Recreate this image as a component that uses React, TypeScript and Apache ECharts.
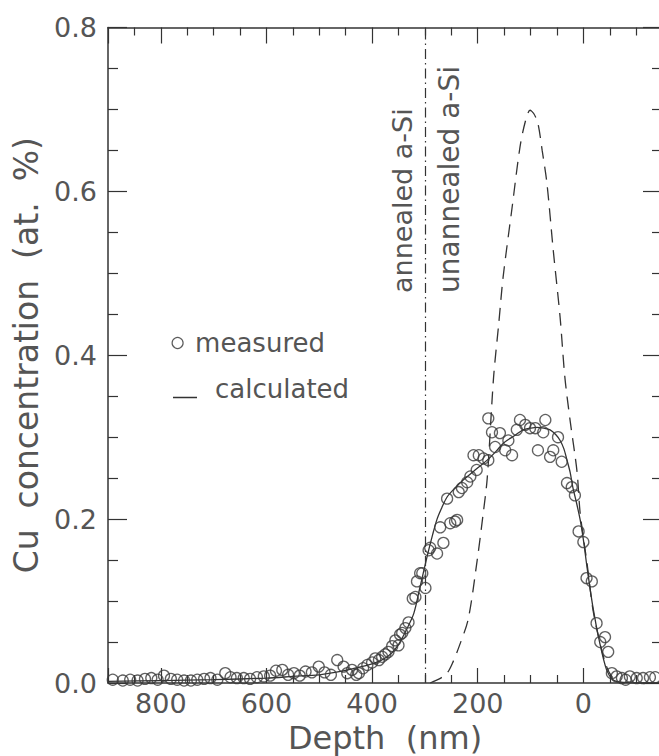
import React, { useEffect, useRef } from "react";
import * as echarts from "echarts";

// Measured Cu concentration (depth in nm, concentration in at.%)
const measuredDepth = [
  891, 872, 858, 844, 830, 818, 806, 794, 781, 769, 756, 743, 731, 718, 706, 693, 678, 668, 656, 643,
  631, 618, 605, 593, 582, 570, 559, 548, 537, 526, 514, 501, 490, 478, 466, 454, 447, 438, 430, 425,
  417, 409, 400, 394, 387, 381, 375, 369, 362, 356, 350, 347, 343, 337, 331, 323, 318, 315, 309, 305,
  299, 293, 290, 277, 271, 265, 258, 252, 243, 239, 236, 230, 220, 214, 208, 202, 198, 189, 180, 180,
  173, 167, 158, 148, 142, 135, 126, 120, 110, 101, 91, 86, 76, 72, 63, 57, 48, 41, 31, 22,
  16, 9, 0, -6, -16, -25, -32, -41, -47, -54, -63, -73, -80, -88, -101, -113, -126, -136,
];
const measuredConc = [
  0.004, 0.003, 0.004, 0.003, 0.005, 0.006, 0.004, 0.009, 0.005, 0.004, 0.003, 0.003, 0.004, 0.005, 0.006, 0.004, 0.012, 0.007, 0.006, 0.006,
  0.005, 0.007, 0.008, 0.009, 0.015, 0.016, 0.010, 0.012, 0.009, 0.014, 0.013, 0.020, 0.013, 0.010, 0.028, 0.020, 0.012, 0.016, 0.010, 0.012,
  0.018, 0.022, 0.025, 0.030, 0.028, 0.032, 0.035, 0.038, 0.045, 0.052, 0.046, 0.059, 0.061, 0.067, 0.074, 0.103, 0.105, 0.124, 0.134, 0.134,
  0.116, 0.162, 0.165, 0.158, 0.190, 0.171, 0.225, 0.195, 0.197, 0.199, 0.233, 0.238, 0.245, 0.252, 0.278, 0.260, 0.278, 0.274, 0.323, 0.272,
  0.306, 0.288, 0.305, 0.284, 0.296, 0.278, 0.309, 0.321, 0.315, 0.311, 0.311, 0.284, 0.306, 0.321, 0.276, 0.284, 0.300, 0.270, 0.244, 0.239,
  0.229, 0.185, 0.172, 0.128, 0.124, 0.073, 0.050, 0.056, 0.038, 0.012, 0.008, 0.006, 0.004, 0.008, 0.006, 0.006, 0.007, 0.007,
];

// Calculated profile after annealing (solid line)
const calcDepth = [
  900, 800, 700, 600, 550, 500, 479, 440, 397, 371, 353, 335, 321, 310, 296, 285, 277, 268, 258, 243,
  227, 205, 182, 165, 151, 130, 114, 100, 88, 75, 63, 52, 44, 37, 31, 25, 20, 13, 6, 0,
  -7, -18, -31, -44, -56, -70, -100, -200,
];
const calcConc = [
  0.002, 0.003, 0.004, 0.006, 0.008, 0.010, 0.012, 0.017, 0.024, 0.032, 0.044, 0.065, 0.085, 0.115, 0.154, 0.182, 0.200, 0.214, 0.227, 0.238,
  0.248, 0.260, 0.272, 0.283, 0.293, 0.302, 0.309, 0.311, 0.312, 0.311, 0.309, 0.303, 0.296, 0.286, 0.272, 0.257, 0.239, 0.220, 0.199, 0.175,
  0.141, 0.093, 0.049, 0.016, 0.004, 0.001, 0.0, 0.0,
];

// Calculated as-implanted profile (dashed line)
const implDepth = [
  290, 280, 270, 258, 248, 235, 218, 201, 190, 182, 170, 160, 152, 135, 120, 110, 101, 94, 86, 78,
  69, 57, 44, 35, 25, 12, 6, -7, -18, -31, -44, -56, -70,
];
const implConc = [
  0.0, 0.003, 0.006, 0.012, 0.024, 0.045, 0.078, 0.150, 0.205, 0.250, 0.373, 0.440, 0.495, 0.580, 0.654, 0.685, 0.699, 0.695, 0.683, 0.650,
  0.610, 0.528, 0.446, 0.373, 0.320, 0.258, 0.207, 0.146, 0.090, 0.050, 0.020, 0.006, 0.0,
];

const boundaryDepth = 300;
const xTickLabels = ["800", "600", "400", "200", "0"];
const legendNames = ["measured", "calculated"];
const regionLabels = ["annealed a-Si", "unannealed a-Si"];
const xTitle = "Depth  (nm)";
const yTitle = "Cu  concentration  (at.  %)";

const FONT = "DejaVu Sans";
const TEXT = "#555";
const INK = "#333";

export default function App() {
  const ref = useRef<HTMLDivElement>(null);
  useEffect(() => {
    if (!ref.current) return;
    const chart = echarts.init(ref.current, null, { renderer: "svg" });
    const zip = (a: number[], b: number[]) => a.map((v, i) => [v, b[i]]);

    const xBase = {
      type: "value",
      min: -200,
      max: 900,
      interval: 200,
      inverse: true,
      splitLine: { show: false },
      axisLine: { show: true, onZero: false, lineStyle: { color: INK, width: 1.5 } },
      minorTick: { show: true, splitNumber: 4, length: 8, lineStyle: { color: INK, width: 1.2 } },
      minorSplitLine: { show: false },
    };
    const yBase = {
      type: "value",
      min: 0,
      max: 0.8,
      interval: 0.2,
      splitLine: { show: false },
      axisLine: { show: true, onZero: false, lineStyle: { color: INK, width: 1.5 } },
      minorTick: { show: true, splitNumber: 4, length: 10, lineStyle: { color: INK, width: 1.2 } },
      minorSplitLine: { show: false },
    };

    chart.setOption({
      animation: false,
      backgroundColor: "#ffffff",
      textStyle: { fontFamily: FONT },
      grid: { left: 108, top: 27.5, right: -30, bottom: 73, containLabel: false, outerBoundsMode: "none" },
      xAxis: [
        {
          ...xBase,
          position: "bottom",
          axisTick: { show: true, inside: true, length: 15, lineStyle: { color: INK, width: 1.2 } },
          axisLabel: {
            show: true,
            margin: 7,
            fontSize: 27,
            color: TEXT,
            fontFamily: FONT,
            showMaxLabel: false,
            showMinLabel: false,
            formatter: (v: number) => (xTickLabels.includes(String(v)) ? String(v) : ""),
          },
          name: xTitle,
          nameLocation: "middle",
          nameGap: 38,
          nameTextStyle: { fontSize: 32, color: TEXT, fontFamily: FONT, padding: [0, 27, 0, 0] },
        },
        {
          ...xBase,
          position: "top",
          axisTick: { show: true, inside: true, length: 16, lineStyle: { color: INK, width: 1.2 } },
          axisLabel: { show: false },
        },
      ],
      yAxis: [
        {
          ...yBase,
          position: "left",
          axisTick: { show: true, inside: true, length: 19, lineStyle: { color: INK, width: 1.2 } },
          axisLabel: {
            show: true,
            margin: 11,
            fontSize: 27,
            color: TEXT,
            fontFamily: FONT,
            formatter: (v: number) => v.toFixed(1),
          },
          name: yTitle,
          nameLocation: "middle",
          nameGap: 62,
          nameTextStyle: { fontSize: 33, color: TEXT, fontFamily: FONT },
        },
        {
          ...yBase,
          position: "right",
          offset: -27,
          axisTick: { show: true, inside: true, length: 19, lineStyle: { color: INK, width: 1.2 } },
          axisLabel: { show: false },
        },
      ],
      legend: [
        {
          data: [legendNames[0]],
          left: 171.5,
          top: 330,
          padding: 0,
          selectedMode: false,
          icon: "circle",
          itemWidth: 25,
          itemHeight: 11,
          itemStyle: { color: "rgba(255,255,255,0)", borderColor: INK, borderWidth: 1.2 },
          textStyle: { fontSize: 26, color: TEXT, fontFamily: FONT },
        },
        {
          data: [legendNames[1]],
          left: 173,
          top: 376,
          padding: 0,
          selectedMode: false,
          icon: "path://M36.99,0 h0.01 v0.01 h-0.01 Z M0,17 h24 v1.5 h-24 Z",
          itemWidth: 37,
          itemHeight: 18.5,
          itemStyle: { color: INK, borderWidth: 0 },
          textStyle: { fontSize: 26, color: TEXT, fontFamily: FONT },
        },
      ],
      graphic: [
        {
          type: "text",
          x: 402,
          y: 293,
          rotation: Math.PI / 2,
          style: { text: regionLabels[0], fontSize: 27, fill: TEXT, fontFamily: FONT, align: "left", verticalAlign: "middle" },
        },
        {
          type: "text",
          x: 449,
          y: 293,
          rotation: Math.PI / 2,
          style: { text: regionLabels[1], fontSize: 28, fill: TEXT, fontFamily: FONT, align: "left", verticalAlign: "middle" },
        },
      ],
      series: [
        {
          name: "as-implanted",
          type: "line",
          data: zip(implDepth, implConc),
          showSymbol: false,
          symbol: "none",
          smooth: 0.3,
          color: INK,
          lineStyle: { color: INK, width: 1.3, type: [13, 8] },
          markLine: {
            silent: true,
            symbol: ["none", "none"],
            label: { show: false },
            lineStyle: { color: INK, width: 1.2, type: [10, 4, 1.5, 4] },
            data: [{ xAxis: boundaryDepth }],
          },
          z: 2,
        },
        {
          name: legendNames[1],
          type: "line",
          data: zip(calcDepth, calcConc),
          showSymbol: false,
          symbol: "none",
          smooth: 0.3,
          color: INK,
          lineStyle: { color: INK, width: 1.3 },
          z: 3,
        },
        {
          name: legendNames[0],
          type: "scatter",
          data: zip(measuredDepth, measuredConc),
          symbol: "circle",
          symbolSize: 11,
          itemStyle: { color: "rgba(255,255,255,0)", borderColor: "#3a3a3a", borderWidth: 1.3 },
          z: 4,
        },
      ],
    });
    return () => chart.dispose();
  }, []);

  return (
    <div
      ref={ref}
      style={{ position: "absolute", left: 0, top: 0, width: 659, height: 756, background: "#fff" }}
    />
  );
}
